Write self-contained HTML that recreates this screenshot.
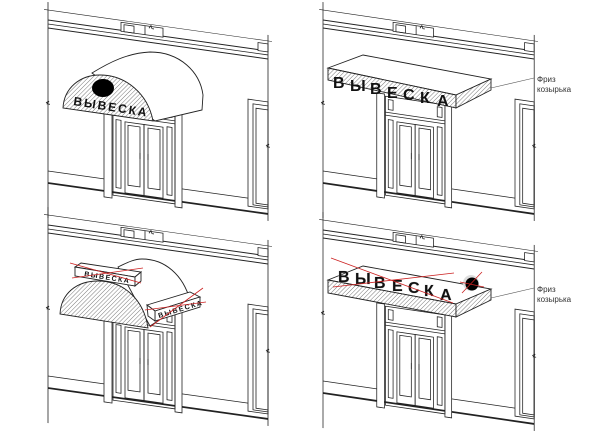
<!DOCTYPE html>
<html><head><meta charset="utf-8"><style>
html,body{margin:0;padding:0;background:#fff;}
svg{display:block;}
.t{font-family:"Liberation Sans","DejaVu Sans",sans-serif;font-weight:bold;fill:#111;}
.l{font-family:"Liberation Sans","DejaVu Sans",sans-serif;fill:#333;font-size:8px;}
</style></head><body>
<svg width="612" height="440" viewBox="0 0 612 440" xmlns="http://www.w3.org/2000/svg">
<defs>
<pattern id="h" width="3" height="3" patternUnits="userSpaceOnUse" patternTransform="rotate(45)">
<rect width="3" height="3" fill="#fff"/><line x1="0" y1="0" x2="0" y2="3" stroke="#555" stroke-width="0.8"/>
</pattern>
<g id="f" fill="none" stroke="#222" stroke-width="0.8">
<g transform="translate(0,-6.72) skewY(8)">
<line x1="44" y1="10" x2="272" y2="10" stroke-width="0.6"/>
<line x1="48" y1="20" x2="268" y2="20" stroke-width="1"/>
<line x1="48" y1="24" x2="268" y2="24"/>
<line x1="48" y1="28" x2="268" y2="28" stroke-width="1"/>
<rect x="121" y="12" width="42" height="9" fill="#fff"/>
<rect x="124" y="14" width="10" height="7"/>
<line x1="145" y1="12" x2="145" y2="21"/>
<path d="M149 14 l2 -3 l1 3 l2 0"/>
<rect x="258" y="13" width="10" height="8" fill="#fff"/>
<line x1="48" y1="2" x2="48" y2="218"/>
<path d="M46 103 l3 -2 l-2 3 l3 0" />
<line x1="268" y1="4" x2="268" y2="190"/>
<path d="M266 115 l3 -2 l-2 3 l3 0"/>
<line x1="48" y1="183" x2="268" y2="183" stroke-width="1.8"/>
<line x1="48" y1="171" x2="104" y2="171"/>
<line x1="182" y1="170" x2="248" y2="170"/>
<rect x="104" y="85" width="8" height="104" fill="#fff"/>
<rect x="175" y="85" width="7" height="104" fill="#fff"/>
<rect x="113" y="87" width="62" height="99"/>
<line x1="113" y1="103" x2="175" y2="103"/>
<line x1="113" y1="106" x2="175" y2="106"/>
<rect x="116" y="90" width="5" height="10"/>
<rect x="167" y="90" width="5" height="10"/>
<rect x="116" y="110" width="5" height="68"/>
<rect x="167" y="110" width="5" height="68"/>
<rect x="125" y="111" width="19" height="71"/>
<rect x="144" y="111" width="19" height="71"/>
<rect x="128" y="114" width="12" height="60"/>
<rect x="148" y="114" width="12" height="60"/>
<line x1="140" y1="140" x2="140" y2="146"/>
<line x1="148" y1="140" x2="148" y2="146"/>
<rect x="248" y="71" width="20" height="107"/>
<rect x="253" y="75" width="15" height="101"/>
<rect x="256" y="79" width="12" height="95"/>
</g>
</g>
</defs>

<!-- Q1 -->
<use href="#f"/>
<g stroke="#222" stroke-width="0.9">
<path d="M92 73 C110 62 128 53 150 52 C180 52 200 72 203 95 L202 110 L155 121 Z" fill="#fff"/>
<path d="M63 108 C64 88 80 75 100 75 C126 75 148 94 153 121 Z" fill="url(#h)"/>
</g>
<ellipse cx="103" cy="88" rx="11" ry="9" fill="#000"/>
<text class="t" x="73" y="105" font-size="12" letter-spacing="2" transform="rotate(9 73 105)">ВЫВЕСКА</text>

<!-- Q2 -->
<use href="#f" transform="translate(275,0) scale(0.96,1) translate(2,0)"/>
<g stroke="#222" stroke-width="0.9">
<polygon points="328,68 363,55 491,79 456,95" fill="#fff"/>
<polygon points="328,68 456,95 456,108 328,80" fill="url(#h)"/>
<polygon points="456,95 491,79 491,90 456,108" fill="url(#h)"/>
</g>
<g class="t" font-size="16">
<text x="333" y="88">В</text><text x="350" y="91">Ы</text><text x="370" y="94">В</text><text x="387" y="98">Е</text><text x="403" y="100">С</text><text x="420" y="103">К</text><text x="437" y="106">А</text>
</g>
<line x1="491" y1="88" x2="534" y2="78" stroke="#555" stroke-width="0.6"/>
<text class="l" x="537" y="82">Фриз</text><text class="l" x="537" y="92">козырька</text>

<!-- Q3 -->
<use href="#f" transform="translate(0,205)"/>
<g stroke="#222" stroke-width="0.9">
<path d="M118 267 C128 262 135 259 142 259 C165 259 183 275 190 300 L150 326 Z" fill="#fff"/>
<path d="M60 314 C61 294 76 281 98 281 C124 281 144 300 148 328 Z" fill="url(#h)"/>
<polygon points="75,267 81,263 141,272 135,277" fill="#fff"/>
<polygon points="75,267 135,277 135,286 75,276" fill="#fff"/>
<polygon points="135,277 141,272 141,281 135,286" fill="#fff"/>
<polygon points="147,305 190,292 200,297 155,311" fill="#fff"/>
<polygon points="155,311 200,297 200,307 155,321" fill="#fff"/>
<polygon points="147,305 155,311 155,321 148,316" fill="#fff"/>
</g>
<text class="t" x="84" y="276" font-size="7" letter-spacing="1.5" transform="rotate(9 84 276)">ВЫВЕСКА</text>
<text class="t" x="159" y="318" font-size="7" letter-spacing="1.5" transform="rotate(-17 159 318)">ВЫВЕСКА</text>
<g stroke="#c22" stroke-width="0.8">
<line x1="70" y1="263" x2="141" y2="283"/><line x1="72" y1="278" x2="143" y2="268"/>
<line x1="150" y1="327" x2="203" y2="288"/><line x1="145" y1="310" x2="206" y2="302"/>
</g>

<!-- Q4 -->
<use href="#f" transform="translate(275,210) scale(0.96,1) translate(2,0)"/>
<g stroke="#222" stroke-width="0.9">
<polygon points="328,280 363,266 491,289 456,304" fill="#fff"/>
<polygon points="328,280 456,304 456,317 328,293" fill="url(#h)"/>
<polygon points="456,304 491,289 491,300 456,317" fill="url(#h)"/>
</g>
<g class="t" font-size="16" stroke="#ccc" stroke-width="0.6" paint-order="stroke">
<text x="338" y="282">В</text><text x="355" y="284">Ы</text><text x="374" y="288">В</text><text x="392" y="291">Е</text><text x="408" y="293">С</text><text x="424" y="296">К</text><text x="440" y="300">А</text>
</g>
<circle cx="471" cy="283" r="8" fill="#ddd"/>
<circle cx="472" cy="284" r="6.5" fill="#000"/>
<g stroke="#c22" stroke-width="0.8">
<line x1="331" y1="258" x2="453" y2="303"/><line x1="333" y1="287" x2="454" y2="273"/>
<line x1="462" y1="293" x2="482" y2="272"/><line x1="460" y1="282" x2="484" y2="287"/>
</g>
<line x1="491" y1="298" x2="534" y2="288" stroke="#555" stroke-width="0.6"/>
<text class="l" x="537" y="292">Фриз</text><text class="l" x="537" y="302">козырька</text>
</svg>
</body></html>
